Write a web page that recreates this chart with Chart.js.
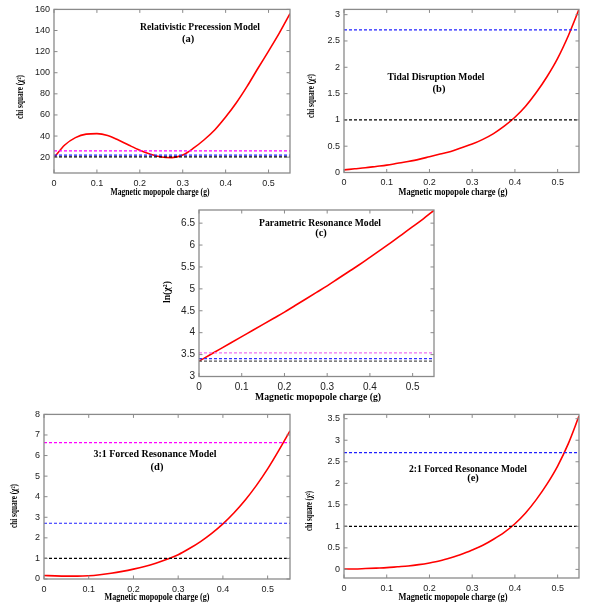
<!DOCTYPE html>
<html>
<head>
<meta charset="utf-8">
<script src="https://cdn.jsdelivr.net/npm/chart.js@4"></script>
<style>
html,body{margin:0;padding:0;background:#fff;}
#page{position:relative;width:608px;height:609px;overflow:hidden;background:#fff;}
.panel{position:absolute;}
</style>
</head>
<body>
<div id="page"></div>
<script>
// ---------- data ----------
const gValues = [0,0.025,0.05,0.075,0.1,0.125,0.15,0.175,0.2,0.225,0.25,0.275,0.3,0.325,0.35,0.375,0.4,0.425,0.45,0.475,0.5,0.525,0.55];
const chiA = [19.5,31.5,38.5,41.8,42.3,40.6,36.3,31.3,26.6,22.8,20.2,19.6,22.0,28.5,36.5,46.0,58.0,71.5,87.0,104.0,120.5,137.5,156.0];
const chiB = [0.05,0.07,0.09,0.115,0.14,0.175,0.21,0.25,0.30,0.35,0.40,0.47,0.54,0.63,0.74,0.88,1.05,1.26,1.52,1.82,2.17,2.60,3.10];
const lnC  = [3.35,3.49,3.63,3.77,3.91,4.05,4.19,4.33,4.47,4.62,4.77,4.92,5.07,5.23,5.39,5.55,5.72,5.89,6.06,6.24,6.42,6.60,6.79];
const chiD = [0.17,0.15,0.14,0.14,0.16,0.21,0.28,0.37,0.48,0.61,0.77,0.96,1.18,1.48,1.82,2.22,2.68,3.22,3.84,4.55,5.35,6.25,7.20];
const chiE = [0.01,0.01,0.02,0.03,0.04,0.06,0.08,0.11,0.15,0.20,0.27,0.35,0.45,0.56,0.70,0.86,1.06,1.31,1.62,1.98,2.40,2.92,3.56];

const levelsA = [20.3, 22.0, 25.9];   // black, blue, magenta
const levelsB = [1.0, 2.71];          // black, blue
const levelsC = [3.35, 3.41, 3.54];   // black, blue, magenta
const levelsD = [1.0, 2.71, 6.63];    // black, blue, magenta
const levelsE = [1.0, 2.71];          // black, blue

const xTicks  = [0,0.1,0.2,0.3,0.4,0.5];
const yTicksA = [20,40,60,80,100,120,140,160];
const yTicksB = [0,0.5,1,1.5,2,2.5,3];
const yTicksC = [3,3.5,4,4.5,5,5.5,6,6.5];
const yTicksD = [0,1,2,3,4,5,6,7,8];
const yTicksE = [0,0.5,1,1.5,2,2.5,3,3.5];

const titles = ['Relativistic Precession Model','Tidal Disruption Model','Parametric Resonance Model','3:1 Forced Resonance Model','2:1 Forced Resonance Model'];
const subLabels = ['(a)','(b)','(c)','(d)','(e)'];
const xLabel = 'Magnetic mopopole charge (g)';
const yLabels = ['chi square (\u03c7\u00b2)','chi square (\u03c7\u00b2)','ln(\u03c7\u00b2)','chi square (\u03c7\u00b2)','chi square (\u03c7\u00b2)'];

// ---------- layout / style ----------
const BLACK='#000000', BLUE='#2020ff', MAGENTA='#ff00ff';
// box: canvas [left,top,w,h]; plot: [left,right,top,bottom] (page px)
// text entries: [centerX, centerY, fontPx, targetWidth]
const panels = [
  {box:[0,0,300,200],   plot:[54,290,5,173],    y:[5,160],   ticks:yTicksA, curve:chiA, levels:levelsA, colors:[BLACK,BLUE,MAGENTA],
   title:[200,27,10.5,120], sub:[188,39,10.5], xl:[160,193,9.5,99], yl:[21,97,9.5,44], tick:9},
  {box:[300,0,308,200], plot:[344,579,5.5,172.5], y:[0,3.1], ticks:yTicksB, curve:chiB, levels:levelsB, colors:[BLACK,BLUE],
   title:[436,77,10.5,97], sub:[439,89,10.5], xl:[453,193,9.5,109], yl:[312,96,9.5,44], tick:9},
  {box:[150,200,300,205], plot:[199,434,208,376.5], y:[3,6.8], ticks:yTicksC, curve:lnC, levels:levelsC, colors:['#555555','#3030ff','#f070f0'],
   title:[320,223,10.5,122], sub:[321,233,10.5], xl:[318,397,10.5,126], yl:[167,292,10.5,22], tick:10},
  {box:[0,405,300,204], plot:[44,290,412,579], y:[0,8], ticks:yTicksD, curve:chiD, levels:levelsD, colors:[BLACK,BLUE,MAGENTA],
   title:[155,454,10.5,123], sub:[157,467,10.5], xl:[157,598,9.5,105], yl:[15,506,9.5,44], tick:9},
  {box:[300,405,308,204], plot:[344,579,411,578], y:[-0.2,3.6], ticks:yTicksE, curve:chiE, levels:levelsE, colors:[BLACK,BLUE],
   title:[468,469,10.5,118], sub:[473,478,10.5], xl:[453,598,9.5,109], yl:[310,511,9.5,40], tick:9}
];

const SERIF = '"Liberation Serif","Times New Roman",serif';
const SANS = '"Liberation Sans",Arial,sans-serif';
const BORDER = '#8a8a8a';

function drawText(ctx, text, x, y, size, targetW, rot){
  ctx.save();
  ctx.font = 'bold '+size+'px '+SERIF;
  const w = ctx.measureText(text).width;
  const s = targetW ? targetW / w : 1;
  ctx.translate(x, y);
  if (rot) ctx.rotate(rot);
  ctx.scale(s, 1);
  ctx.textAlign='center'; ctx.textBaseline='middle';
  ctx.fillText(text, 0, 0);
  ctx.restore();
  return s;
}

const page = document.getElementById('page');

panels.forEach((p, i) => {
  const [bx,by,bw,bh] = p.box;
  const [pl,pr,pt,pb] = p.plot;
  const div = document.createElement('div');
  div.className='panel';
  div.style.left=bx+'px'; div.style.top=by+'px';
  div.style.width=bw+'px'; div.style.height=bh+'px';
  const cv = document.createElement('canvas');
  cv.width=bw; cv.height=bh;
  cv.style.width=bw+'px'; cv.style.height=bh+'px';
  div.appendChild(cv);
  page.appendChild(div);

  const datasets = [];
  p.levels.forEach((lv, k) => {
    datasets.push({
      data:[{x:0,y:lv},{x:0.55,y:lv}],
      borderColor:p.colors[k], borderWidth:1.2, borderDash:[3,2],
      pointRadius:0, fill:false, tension:0
    });
  });
  datasets.push({
    data:gValues.map((g,k)=>({x:g,y:p.curve[k]})),
    borderColor:'#ff0000', borderWidth:1.6, pointRadius:0, fill:false,
    cubicInterpolationMode:'monotone'
  });

  const decor = {
    id:'decor'+i,
    afterDraw(chart){
      const ctx = chart.ctx, ca = chart.chartArea;
      const xs = chart.scales.x, ys = chart.scales.y;
      ctx.save();
      ctx.strokeStyle = BORDER; ctx.lineWidth = 1.3;
      ctx.strokeRect(ca.left, ca.top, ca.right-ca.left, ca.bottom-ca.top);
      ctx.beginPath();
      xTicks.forEach(v => {
        const X = xs.getPixelForValue(v);
        ctx.moveTo(X, ca.bottom); ctx.lineTo(X, ca.bottom-3.5);
        ctx.moveTo(X, ca.top); ctx.lineTo(X, ca.top+3.5);
      });
      p.ticks.forEach(v => {
        const Y = ys.getPixelForValue(v);
        ctx.moveTo(ca.left, Y); ctx.lineTo(ca.left+3.5, Y);
        ctx.moveTo(ca.right, Y); ctx.lineTo(ca.right-3.5, Y);
      });
      ctx.lineWidth = 1; ctx.stroke();
      ctx.fillStyle = '#000';
      const s = drawText(ctx, titles[i], p.title[0]-bx, p.title[1]-by, p.title[2], p.title[3]);
      drawText(ctx, subLabels[i], p.sub[0]-bx, p.sub[1]-by, p.sub[2], ctx.measureText ? null : null);
      drawText(ctx, xLabel, p.xl[0]-bx, p.xl[1]-by, p.xl[2], p.xl[3]);
      drawText(ctx, yLabels[i], p.yl[0]-bx, p.yl[1]-by, p.yl[2], p.yl[3], -Math.PI/2);
      ctx.restore();
    }
  };

  new Chart(cv, {
    type:'line',
    data:{datasets},
    options:{
      responsive:false, animation:false, devicePixelRatio:1,
      layout:{padding:{left:0, top:pt-by, right:(bx+bw)-pr, bottom:0}},
      plugins:{legend:{display:false}, tooltip:{enabled:false}},
      scales:{
        x:{type:'linear', min:0, max:0.55,
           afterBuildTicks:s=>{s.ticks = xTicks.map(v=>({value:v}));},
           afterFit:s=>{s.height = (by+bh)-pb;},
           grid:{display:false, drawTicks:false}, border:{display:false},
           ticks:{padding:5, color:'#222', font:{family:SANS, size:p.tick}, maxRotation:0, autoSkip:false,
                  callback:v=>String(v)}},
        y:{type:'linear', min:p.y[0], max:p.y[1],
           afterBuildTicks:s=>{s.ticks = p.ticks.map(v=>({value:v}));},
           afterFit:s=>{s.width = pl-bx;},
           grid:{display:false, drawTicks:false}, border:{display:false},
           ticks:{padding:4, color:'#222', font:{family:SANS, size:p.tick}, autoSkip:false,
                  callback:v=>String(v)}}
      }
    },
    plugins:[decor]
  });
});
</script>
</body>
</html>
